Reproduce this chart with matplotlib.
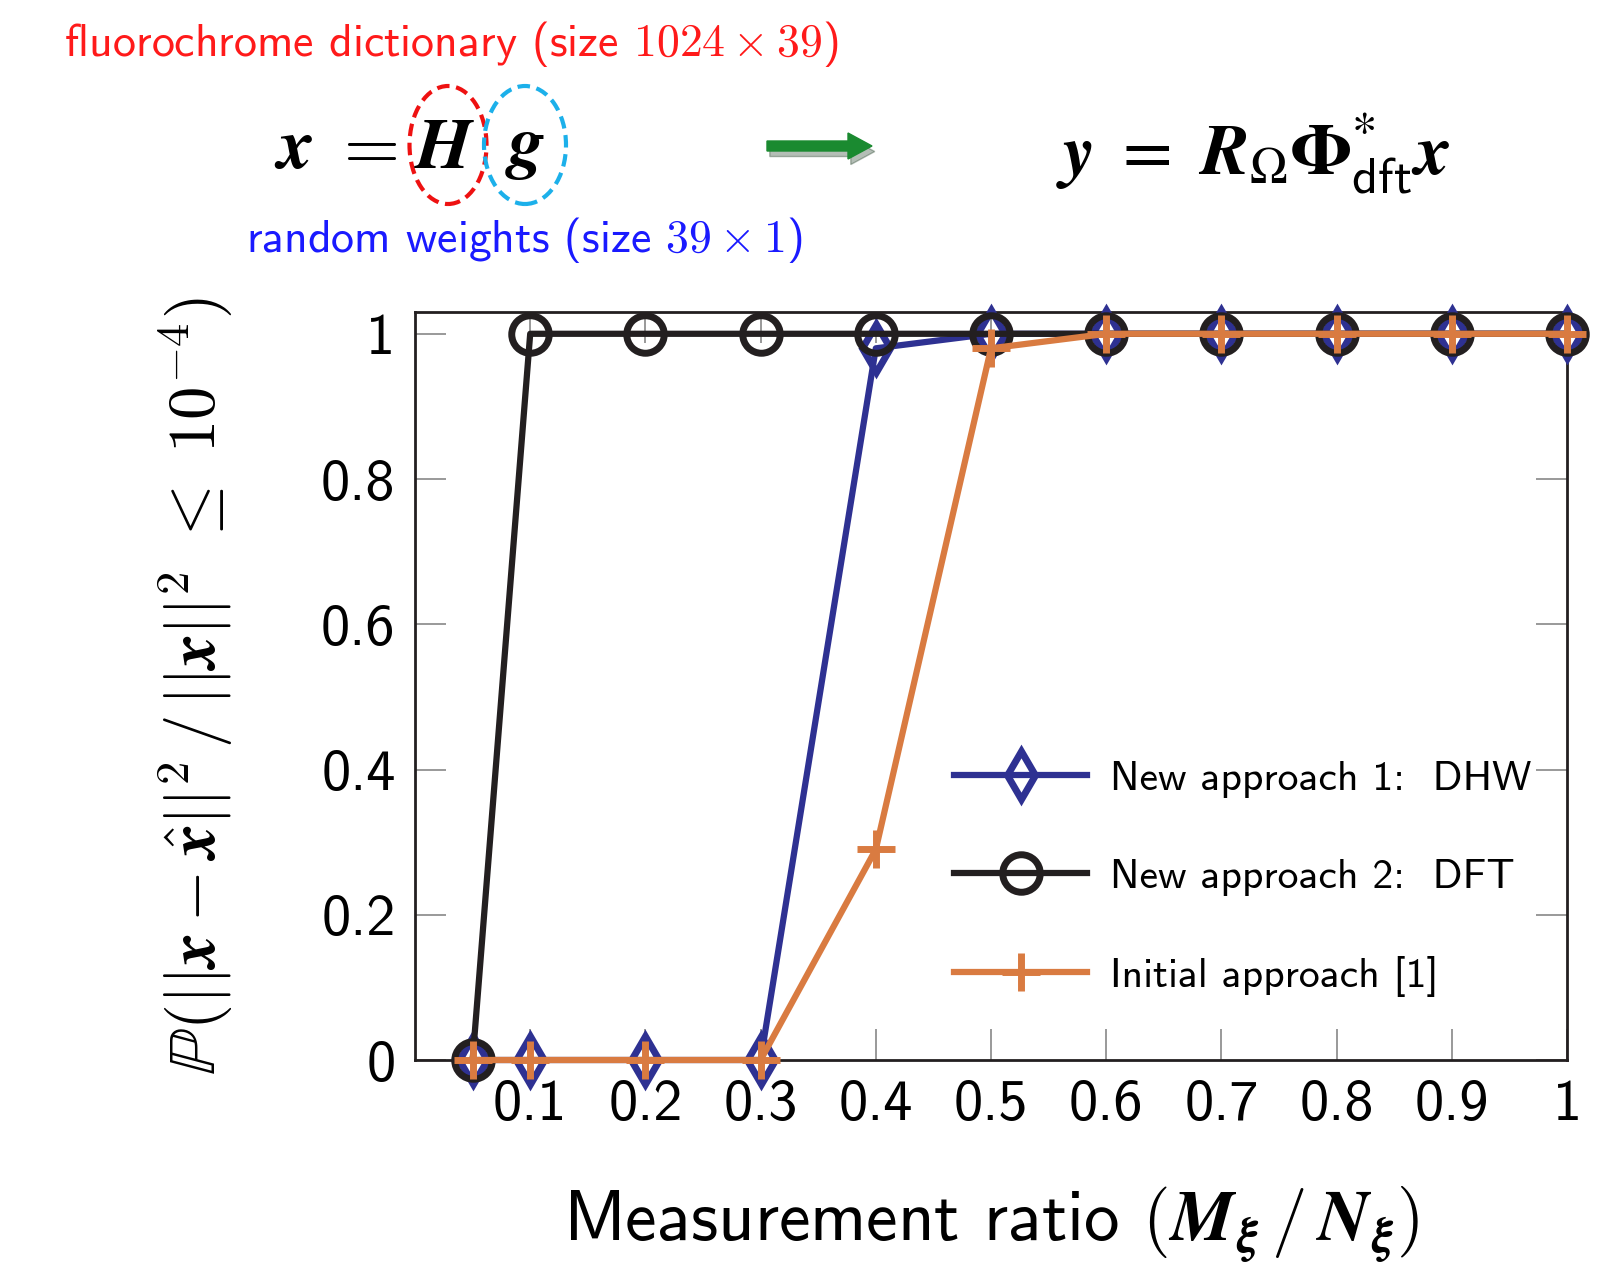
import matplotlib
matplotlib.use("Agg")
import matplotlib.pyplot as plt
from matplotlib.patches import Ellipse, FancyArrow, Shadow

plt.rcParams['mathtext.fontset'] = 'cm'
plt.rcParams['font.family'] = ['cmss10', 'DejaVu Sans']
plt.rcParams['axes.unicode_minus'] = False
# settings used only by texts with math_fontfamily='custom'
plt.rcParams['mathtext.rm'] = 'STIXGeneral'
plt.rcParams['mathtext.it'] = 'STIXGeneral:italic'
plt.rcParams['mathtext.bf'] = 'STIXGeneral:bold'
plt.rcParams['mathtext.bfit'] = 'STIXGeneral:italic:bold'
plt.rcParams['mathtext.sf'] = 'cmss10'

# ---- data ----
ratio = [0.05, 0.1, 0.2, 0.3, 0.4, 0.5, 0.6, 0.7, 0.8, 0.9, 1.0]
dhw = [0, 0, 0, 0, 0.98, 1, 1, 1, 1, 1, 1]
dft = [0, 1, 1, 1, 1, 1, 1, 1, 1, 1, 1]
initial = [0, 0, 0, 0, 0.29, 0.98, 1, 1, 1, 1, 1]
xticks = [0.1, 0.2, 0.3, 0.4, 0.5, 0.6, 0.7, 0.8, 0.9, 1.0]
xticklabels = ['0.1', '0.2', '0.3', '0.4', '0.5', '0.6', '0.7', '0.8', '0.9', '1']
yticks = [0, 0.2, 0.4, 0.6, 0.8, 1.0]
yticklabels = ['0', '0.2', '0.4', '0.6', '0.8', '1']
labels = ['New approach 1:  DHW', 'New approach 2:  DFT', 'Initial approach [1]']

c_blue = '#2e3192'
c_black = '#231f20'
c_orange = '#d97b41'

W, H = 1608, 1270
fig = plt.figure(figsize=(W / 100, H / 100), dpi=100)
ax = fig.add_axes([415 / W, 1 - 1060 / H, (1567 - 415) / W, (1060 - 312) / H])

l1, = ax.plot(ratio, dhw, color=c_blue, lw=4.5, marker='d', ms=24, mfc='none',
              mec=c_blue, mew=5, zorder=3, clip_on=False)
l2, = ax.plot(ratio, dft, color=c_black, lw=4.5, marker='o', ms=27, mfc='none',
              mec=c_black, mew=5, zorder=4, clip_on=False)
l3, = ax.plot(ratio, initial, color=c_orange, lw=4.5, marker='+', ms=28,
              mew=5, zorder=5, clip_on=False)

ax.set_xlim(0, 1)
ax.set_ylim(0, 1.03)
ax.set_xticks(xticks)
ax.set_xticklabels(xticklabels)
ax.set_yticks(yticks)
ax.set_yticklabels(yticklabels)
ax.tick_params(direction='in', length=22, width=1.2, color='#888888',
               top=True, right=True, labelsize=42, pad=14)
for s in ax.spines.values():
    s.set_linewidth(2)
    s.set_color('#231f20')

ax.set_xlabel(r'Measurement ratio $(\mathbfit{M}_{\mathbfit{\xi}}\,/\,\mathbfit{N}_{\mathbfit{\xi}})$',
              fontsize=51, labelpad=38)
ax.set_ylabel(r'$\mathbb{P}(||\mathbfit{x}-\hat{\mathbfit{x}}||^{\mathbf{2}}\,/\,||\mathbfit{x}||^{\mathbf{2}}\ \leq\ \mathbf{10}^{-\mathbf{4}})$',
              fontsize=48, labelpad=62)

ax.legend([l1, l2, l3], labels, loc='upper left', bbox_to_anchor=(0.468, 0.40),
          frameon=False, fontsize=30, handlelength=3.2, handletextpad=0.55,
          labelspacing=1.45, borderpad=0, borderaxespad=0)

# ---- header annotations ----
fig.text(64 / W, 1 - 44 / H, r'fluorochrome dictionary (size $1024\times39$)',
         color='#ff1a1a', fontsize=33, va='center', ha='left')
fig.text(246 / W, 1 - 240 / H, r'random weights (size $39\times1$)',
         color='#1a1aff', fontsize=33, va='center', ha='left')
for s, xc in [(r'$\mathbfit{x}$', 294), (r'$=$', 364), (r'$\mathbfit{H}$', 445), (r'$\mathbfit{g}$', 525)]:
    fig.text(xc / W, 1 - 150 / H, s, fontsize=52, va='center', ha='center', color='black')
fig.text(1056 / W, 1 - 154 / H,
         r'$\mathbfit{y}\ =\ \mathbfit{R}_{\Omega}\mathbf{\Phi}^{*}_{\mathsf{dft}}\mathbfit{x}$',
         fontsize=52, va='center', ha='left', color='black', math_fontfamily='custom')

e1 = Ellipse((448 / 100, (H - 145) / 100), 0.77, 1.18, transform=fig.dpi_scale_trans,
             fill=False, ls=(0, (3, 1.6)), ec='#ee1111', lw=3)
e2 = Ellipse((525 / 100, (H - 145) / 100), 0.82, 1.18, transform=fig.dpi_scale_trans,
             fill=False, ls=(0, (3, 1.6)), ec='#1cb0ea', lw=3)
fig.patches.extend([e1, e2])

arr = FancyArrow(7.67, (H - 146) / 100, 1.05, 0, width=0.10, head_width=0.26,
                 head_length=0.24, length_includes_head=True,
                 transform=fig.dpi_scale_trans, color='#1a8a30', zorder=3)
sh = Shadow(arr, 0.02, -0.04)
sh.set_alpha(0.3)
fig.patches.extend([sh, arr])

fig.savefig('out.png', dpi=100)
